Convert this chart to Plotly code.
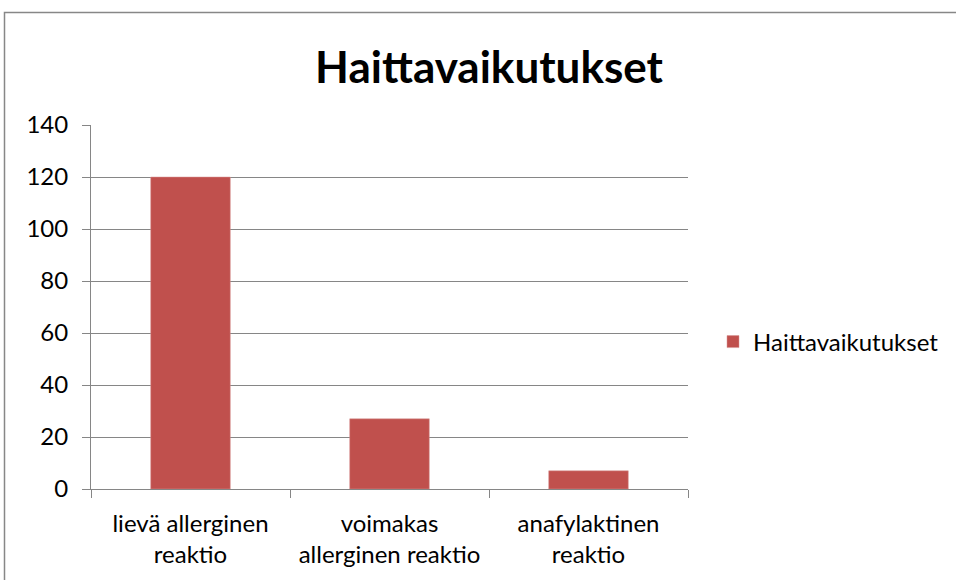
import plotly.graph_objects as go

categories = ["lievä allerginen<br>reaktio", "voimakas<br>allerginen reaktio", "anafylaktinen<br>reaktio"]
values = [120, 27, 7]
series_name = "Haittavaikutukset"
title_text = "Haittavaikutukset"
y_ticks = [0, 20, 40, 60, 80, 100, 120, 140]

FONT = "Lato"
GRID = "#868686"

fig = go.Figure()
fig.add_trace(go.Bar(
    x=categories, y=values, name=series_name,
    marker=dict(color="#C0504D", line=dict(color="#D99694", width=0.5)),
    width=0.4,
))

fig.update_layout(
    width=956, height=580,
    paper_bgcolor="white", plot_bgcolor="white",
    margin=dict(l=91, r=268, t=125, b=91),
    font=dict(family=FONT, color="black"),
    title=dict(text="<b>" + title_text + "</b>", x=489/956, xanchor="center",
               xref="container", y=1 - 68/580, yanchor="middle", yref="container",
               font=dict(size=44, family=FONT, color="black")),
    showlegend=True,
    legend=dict(x=(713-91)/597, xanchor="left", y=(489-342)/364, yanchor="middle",
                font=dict(size=24, family=FONT), itemwidth=30,
                bgcolor="rgba(0,0,0,0)"),
    xaxis=dict(
        tickson="boundaries", ticks="outside", ticklen=8, tickcolor=GRID, tickwidth=1,
        showline=True, linecolor=GRID, linewidth=1, showgrid=False,
        tickfont=dict(size=24, family=FONT), ticklabelstandoff=13,
    ),
    yaxis=dict(
        range=[0, 140], tickvals=y_ticks, ticks="outside", ticklen=8, tickcolor=GRID,
        showline=True, linecolor=GRID, linewidth=1, showgrid=True, gridcolor=GRID,
        gridwidth=1, zeroline=False, tickfont=dict(size=24, family=FONT),
        ticklabelstandoff=9,
    ),
    shapes=[dict(type="rect", xref="paper", yref="paper",
                 x0=(4.5-91)/597, x1=(1000-91)/597, y0=(489-700)/364, y1=(489-12.5)/364,
                 line=dict(color="#878787", width=1.5), fillcolor="rgba(0,0,0,0)",
                 layer="below")],
)

fig.write_html("out.html", config={"displayModeBar": False},
               post_script="document.body.style.margin='0';document.body.style.overflow='hidden';")
